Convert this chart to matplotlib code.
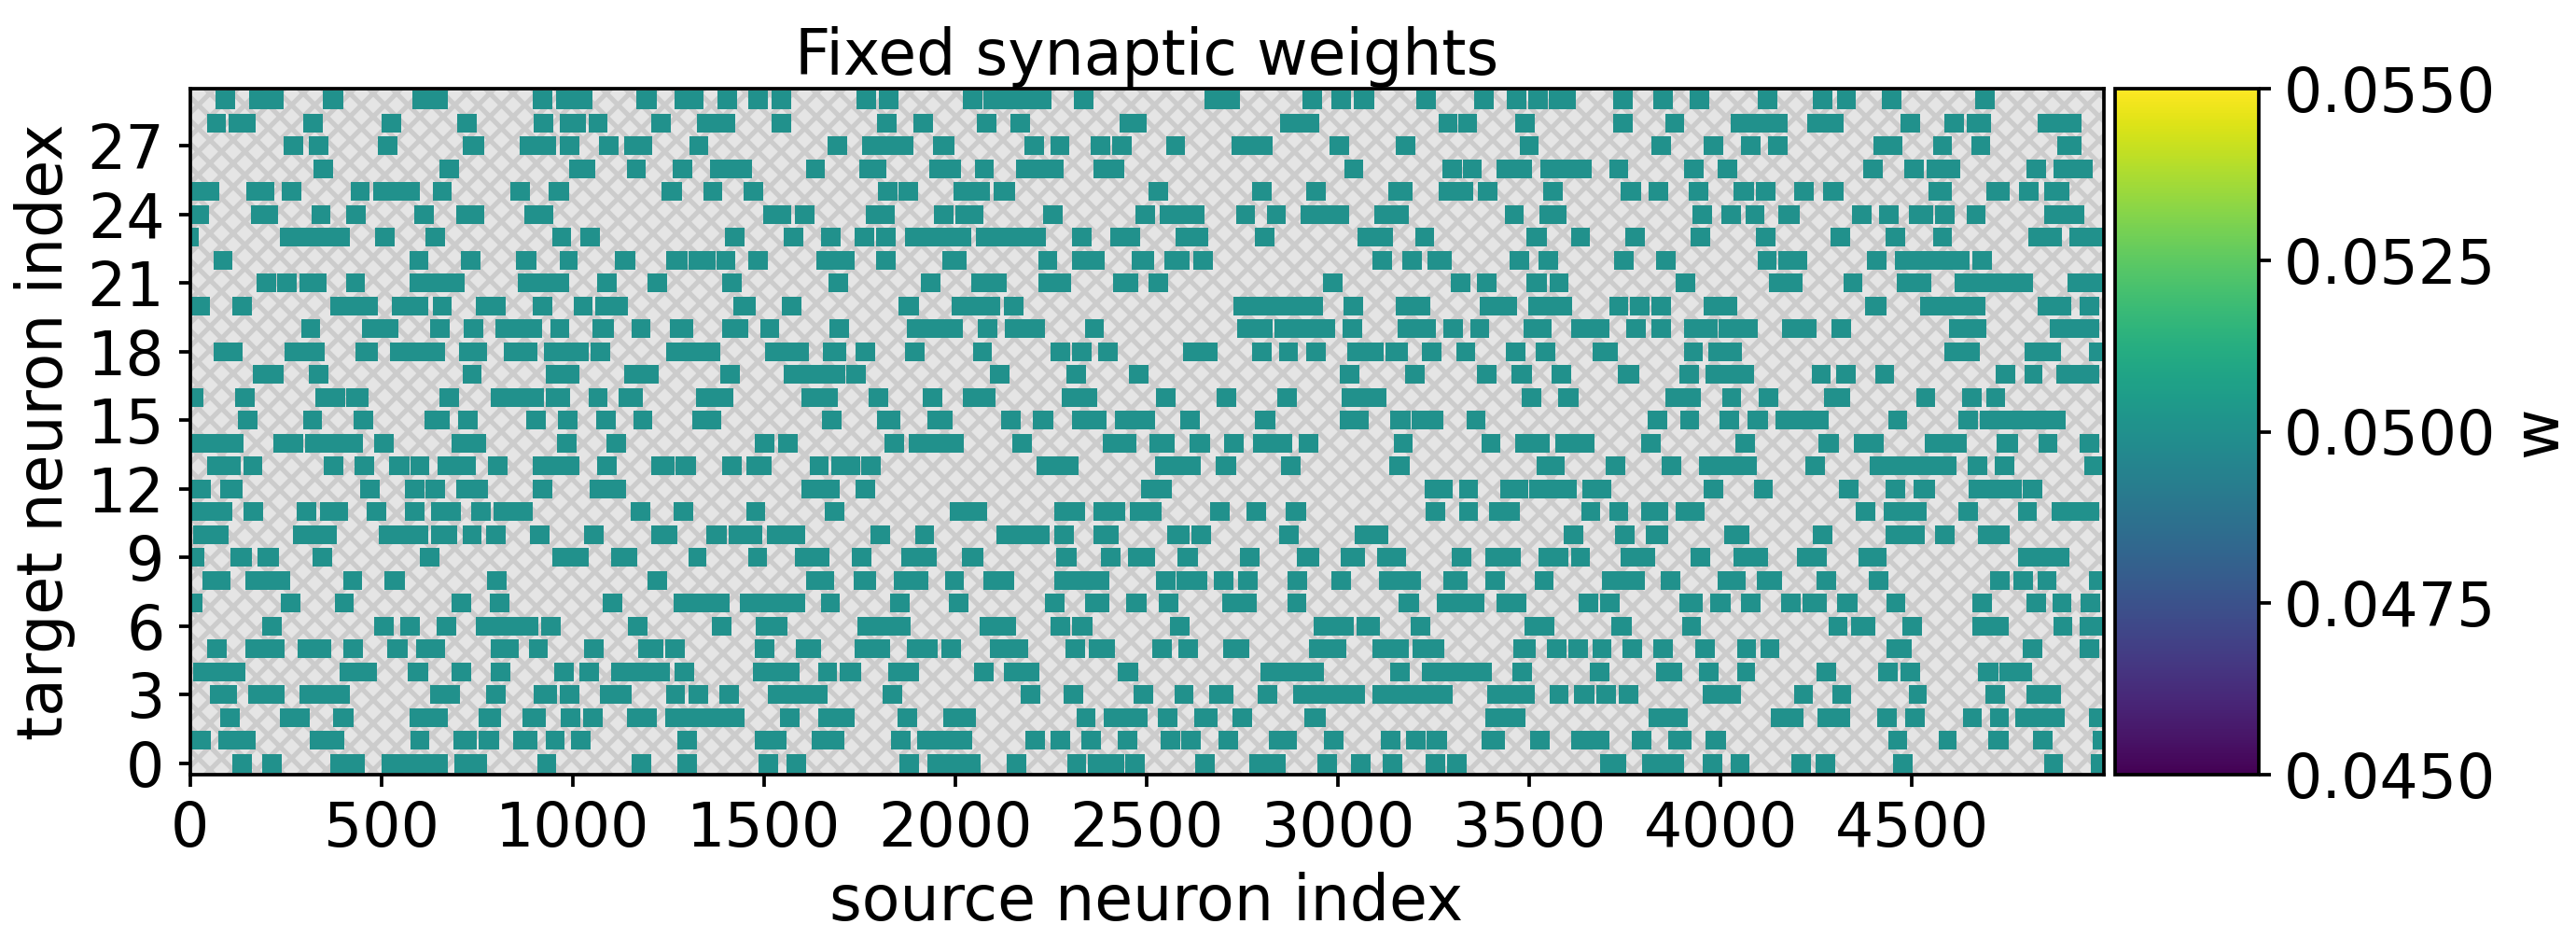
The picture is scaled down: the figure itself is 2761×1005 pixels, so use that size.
import matplotlib
matplotlib.use("Agg")
import matplotlib.pyplot as plt
from matplotlib.patches import Rectangle
from matplotlib.cm import ScalarMappable
from matplotlib.colors import Normalize
from matplotlib.ticker import FormatStrFormatter

# Each row: flat list of start, end source-neuron indices of connected runs
row_29 = [67,119,156,245,348,402,582,675,897,948,956,1053,1167,1219,1267,1343,1379,1430,1460,1511,1519,1570,
          1742,1793,1801,1852,2020,2072,2074,2251,2310,2361,2652,2745,2908,2959,2983,3035,3040,3095,3205,3256,
          3356,3407,3442,3493,3498,3549,3551,3622,3720,3771,3824,3875,3920,3971,4098,4149,4241,4292,4305,4353,4420,4471,4666,4717]
row_28 = [46,95,102,173,297,348,502,553,699,750,899,950,966,1036,1041,1092,1206,1257,1324,1424,1521,1570,
          1795,1847,1891,1942,2057,2108,2145,2196,2430,2501,2849,2951,3262,3313,3315,3364,
          3464,3515,3720,3771,3856,3905,4025,4176,4227,4322,4469,4520,4585,4636,4642,4707,4827,4943]
row_27 = [244,295,311,363,492,543,714,770,862,956,966,1017,1068,1119,1135,1209,1306,1355,
          1667,1718,1757,1891,1942,1998,2181,2232,2249,2298,2354,2405,2410,2462,2550,2601,2723,2830,2979,3030,3152,3201,
          3474,3525,3818,3869,3956,4007,4054,4105,4123,4174,4398,4475,4554,4605,4654,4705,4880,4943]
row_26 = [323,374,653,704,992,1060,1141,1192,1261,1312,1360,1470,1609,1659,
          1750,1820,1933,2015,2052,2100,2159,2283,2361,2442,3018,3066,3272,3323,3327,3376,
          3415,3507,3529,3663,3708,3759,3905,3956,3993,4044,4373,4424,4479,4530,4539,4627,4798,4849,4870,4973]
row_25 = [0,77,148,221,241,292,421,470,478,600,634,685,838,889,938,990,1233,1285,1341,1392,1448,1497,
          1799,1850,1852,1903,1996,2090,2100,2157,2505,2556,2776,2827,2916,2967,3132,3195,3262,3354,
          3366,3417,3537,3588,3739,3791,3812,3863,3917,3968,4034,4086,4093,4144,4193,4244,4268,4320,4544,4603,4695,4754,4780,4831,4844,4910]
row_24 = [0,51,160,231,317,368,409,460,587,638,695,770,875,950,1497,1570,1582,1633,
          1767,1842,1945,1996,2001,2074,2230,2281,2471,2523,2534,2652,2733,2784,2815,2864,2903,3030,3095,3186,
          3435,3486,3527,3598,3927,3978,4001,4052,4064,4113,4151,4207,4344,4393,4414,4465,4491,4554,4559,4610,4642,4691,4844,4949]
row_23 = [0,24,236,419,484,536,616,667,946,997,1021,1072,1399,1450,1552,1604,
          1650,1701,1738,1789,1793,1844,1869,2042,2054,2237,2306,2357,2405,2483,2576,2662,2784,2835,3052,3144,3201,3252,
          3493,3545,3608,3659,3751,3803,3922,3973,4093,4144,4288,4337,4430,4481,4554,4605,4803,4892,4912,5000]
row_22 = [63,112,573,622,709,760,853,905,966,1014,1111,1163,1245,1300,1302,1373,1375,1426,1460,1511,1636,1738,
          1793,1844,1966,2029,2216,2267,2306,2391,2462,2520,2547,2611,2621,2672,3091,3142,3169,3220,3235,3298,
          3449,3500,3525,3574,3722,3773,3832,3883,4098,4146,4151,4225,4383,4434,4456,4649,4658,4709]
row_21 = [175,226,229,280,287,358,409,458,575,718,858,992,1065,1116,1196,1248,1392,1443,
          1669,1720,1911,1962,2042,2135,2216,2303,2413,2479,2505,2556,2961,3012,3295,3347,
          3362,3413,3493,3545,3554,3602,3883,3934,4125,4215,4322,4371,4461,4551,4612,4815,4907,4971,4973,5000]
row_20 = [0,53,112,163,366,492,529,622,634,685,748,824,897,948,1002,1053,1060,1145,1421,1479,1548,1597,
          1852,1905,1991,2118,2127,2179,2727,2961,3015,3066,3150,3242,
          3371,3468,3498,3612,3708,3759,3763,3814,3820,3871,3956,4042,4376,4434,4520,4691,4829,4917,4937,4988]
row_19 = [292,341,449,545,628,679,716,767,799,921,943,992,1051,1109,1155,1204,1255,1314,1392,1460,1491,1540,
          1671,1722,1874,2020,2059,2110,2130,2235,2338,2389,2737,2830,2835,2993,3012,3064,3156,3256,3276,3327,3347,3395,
          3486,3559,3610,3708,3754,3805,3820,3871,3903,3993,3995,4098,4161,4251,4290,4341,4597,4693,4861,4937,4939,4990]
row_18 = [63,138,248,353,433,492,524,667,704,777,821,907,926,1043,1048,1099,1245,1387,1504,1617,
          1654,1715,1740,1791,1869,1921,2047,2096,2249,2300,2306,2357,2373,2425,2595,2686,2776,2827,2845,2896,2916,2967,3024,3120,3125,3183,3220,3271,3310,3357,
          3439,3490,3517,3568,3666,3730,3903,3954,3968,4056,4585,4678,4795,4888,4961,5000]
row_17 = [165,246,311,363,712,763,931,1019,1135,1224,1385,1436,1552,1713,1715,1767,
          2090,2142,2291,2342,2454,2505,3005,3056,3176,3227,
          3362,3413,3452,3507,3559,3608,3730,3788,3891,3942,3961,4088,4237,4288,4302,4353,4405,4453,4719,4770,4793,4841,4876,4990]
row_16 = [0,36,119,170,327,407,409,468,653,704,787,926,931,994,1041,1092,1121,1184,1322,1421,1599,1693,
          1774,1825,1915,1966,2020,2106,2277,2371,2525,2576,2684,2735,2842,2893,3010,3127,
          3480,3531,3574,3629,3856,3949,4003,4054,4100,4151,4271,4339,4512,4561,4630,4681,4693,4744]
row_15 = [126,177,297,346,427,478,612,679,702,753,880,931,962,1014,1062,1114,1158,1209,1312,1389,
          1652,1703,1795,1856,1927,1994,2120,2171,2203,2255,2306,2395,2418,2523,2588,2639,2784,2837,3005,3079,3137,3189,3193,3276,3337,3386,
          3810,3861,3895,3944,3997,4049,4071,4123,4144,4283,4437,4488,4622,4673,4678,4902]
row_14 = [0,140,219,297,302,453,482,533,683,773,960,1011,1088,1139,1477,1528,1538,1589,
          1815,1866,1879,2023,2149,2200,2385,2474,2507,2574,2611,2666,2703,2754,2778,2881,2898,2949,3146,3195,
          3374,3425,3464,3554,3568,3671,3793,3844,4039,4090,4256,4308,4347,4427,4532,4644,4722,4776,4831,4880,4937,4988]
row_13 = [46,134,140,189,351,402,431,482,521,573,577,626,648,746,779,831,897,1017,1065,1116,1206,1267,1270,1322,1392,1443,1455,1521,1619,1669,
          1677,1752,1754,1805,2212,2322,2523,2642,2681,2733,2851,2903,3134,3188,
          3519,3593,3700,3751,3846,3898,3944,4095,4222,4273,4390,4442,4444,4617,4646,4697,4715,4766,4949,5000]
row_12 = [0,56,79,138,445,496,561,612,616,667,695,779,897,948,1045,1139,1599,1698,
          1740,1791,2486,2566,3227,3300,3317,3366,
          3423,3496,3500,3625,3639,3715,3956,4007,4086,4135,4308,4359,4430,4481,4505,4559,4648,4786,4790,4841]
row_11 = [0,112,140,192,280,331,339,414,463,514,563,614,631,709,734,785,793,895,1151,1202,1263,1314,1453,1504,
          1659,1710,1986,2084,2259,2340,2361,2444,2456,2540,2666,2717,2761,2812,2864,2916,3230,3281,3317,3366,
          3395,3474,3635,3686,3710,3759,3791,3863,3883,3959,4353,4405,4427,4539,4620,4671,4776,4825,4864,4990]
row_10 = [9,102,270,384,494,622,631,699,712,763,775,826,889,941,1031,1082,1206,1273,1350,1402,1409,1495,1509,1607,
          1779,1830,1896,1945,2108,2247,2259,2310,2361,2428,2554,2611,2617,2668,2847,2898,3044,3132,
          3590,3641,3724,3776,3805,3863,4010,4076,4241,4292,4430,4534,4561,4612,4673,4756]
row_09 = [0,38,107,163,177,234,321,372,600,651,946,1041,1100,1170,1302,1350,1458,1509,1582,1671,
          1730,1781,1860,1952,2017,2074,2263,2316,2381,2432,2452,2523,2581,2633,2745,2796,2893,2951,3008,3071,3101,3178,3298,3349,
          3386,3478,3525,3602,3610,3659,3739,3828,3922,3973,4034,4123,4200,4276,4359,4434,4776,4910]
row_08 = [32,105,146,262,400,449,509,561,777,828,1196,1248,1611,1683,
          1734,1793,1840,1930,1974,2023,2074,2155,2259,2403,2525,2576,2578,2659,2676,2727,2739,2790,2869,2920,2983,3034,3108,3217,3276,3339,
          3386,3437,3513,3564,3690,3803,3844,3895,3991,4066,4095,4161,4251,4302,4388,4439,4705,4756,4764,4815,4827,4878,4961,5000]
row_07 = [0,32,238,290,378,429,685,736,783,834,1078,1129,1263,1411,1436,1607,1648,1698,
          1830,1881,1984,2035,2235,2286,2338,2403,2446,2499,2532,2584,2698,2788,2867,2918,3159,3211,3258,3383,
          3413,3493,3629,3681,3686,3737,3893,3954,3973,4025,4052,4103,4158,4210,4215,4276,4305,4357,4434,4483,4658,4709,4798,4849,4866,4915,4941,4992]
row_06 = [189,241,482,533,549,600,646,697,746,911,919,970,1145,1196,1363,1414,1479,1562,
          1744,1884,2064,2159,2249,2300,2306,2359,2560,2611,2937,3040,3049,3110,3191,3242,
          3488,3566,3715,3767,3900,3949,4283,4332,4341,4405,4475,4526,4658,4752,4870,4919,4939,5000]
row_05 = [46,97,146,248,282,370,400,451,516,570,592,667,785,860,885,936,1031,1082,1172,1236,1243,1294,1477,1528,1584,1650,
          1738,1830,1874,1954,1964,2015,2090,2191,2289,2340,2349,2418,2515,2566,2584,2635,2700,2769,2925,3022,3091,3186,3195,3278,
          3459,3517,3547,3598,3602,3654,3666,3715,3744,3795,3824,3875,3934,3985,4042,4093,4103,4154,4434,4498,4790,4841,4937,4988]
row_04 = [9,144,392,490,570,622,683,734,787,838,953,1004,1019,1070,1100,1255,1267,1318,1472,1592,1641,1691,
          1698,1754,1825,1905,2049,2100,2127,2220,2425,2479,2798,2963,3137,3188,3220,3403,
          3456,3507,3657,3708,3832,3900,3944,3995,4042,4090,4251,4302,4412,4463,4469,4520,4673,4725,4727,4813]
row_03 = [53,124,153,248,287,419,628,706,773,824,899,960,966,1017,1072,1155,1245,1294,1302,1353,1383,1434,1511,1667,
          1811,1862,2171,2222,2283,2334,2466,2517,2572,2623,2664,2727,2790,2842,2883,3071,3089,3300,
          3391,3513,3554,3602,3617,3669,3676,3727,3734,3785,3952,4052,4193,4241,4292,4341,4491,4539,4691,4742,4798,4890]
row_02 = [79,131,236,314,374,427,573,673,755,814,870,931,970,1021,1027,1078,1143,1219,1241,1450,1543,1592,1643,1738,
          1850,1901,1968,2054,2316,2367,2389,2503,2530,2581,2625,2686,2725,2776,2912,2969,
          3386,3490,3812,3915,4132,4217,4254,4339,4408,4459,4483,4534,4632,4683,4703,4752,4770,4900,4961,5000]
row_01 = [0,56,75,173,314,404,577,626,689,750,755,807,844,909,929,980,997,1048,1273,1324,1475,1558,1626,1710,
          1832,1884,1901,2045,2184,2235,2249,2300,2330,2381,2425,2476,2537,2588,2590,2642,2688,2739,2820,2893,2963,3015,3113,3164,3178,3230,3232,3284,
          3374,3435,3503,3554,3610,3708,3767,3818,3863,3924,3961,4013,4439,4488,4569,4617,4699,4752,4817,4868,4973,5000]
row_00 = [112,163,189,241,366,458,502,675,692,777,907,958,1155,1206,1273,1324,1485,1536,1560,1611,
          1854,1905,1927,2066,2135,2186,2293,2342,2347,2442,2444,2495,2627,2678,2769,2864,2947,2998,3034,3085,3117,3168,3230,3279,3286,3337,
          3686,3754,3795,3905,3954,4005,4025,4076,4184,4235,4249,4300,4451,4502,4844,4893,4966,5000]

rows = [row_00, row_01, row_02, row_03, row_04, row_05, row_06, row_07, row_08, row_09,
        row_10, row_11, row_12, row_13, row_14, row_15, row_16, row_17, row_18, row_19,
        row_20, row_21, row_22, row_23, row_24, row_25, row_26, row_27, row_28, row_29]

weight = 0.05
v_min, v_max = 0.045, 0.055
x_ticks = list(range(0, 5000, 500))
y_ticks = list(range(0, 30, 3))
cbar_ticks = [0.045, 0.0475, 0.05, 0.0525, 0.055]

W, H, DPI = 2761, 1005, 300
FS = 15.6
FS_LABEL = 16
plt.rcParams.update({"font.family": "DejaVu Sans", "font.size": FS,
                     "axes.linewidth": 0.9, "hatch.linewidth": 1.25, "hatch.color": "#cccccc"})

fig = plt.figure(figsize=(W / DPI, H / DPI), dpi=DPI)
L, R, T, B = 203.5, 2254.5, 95, 830
ax = fig.add_axes([L / W, 1 - B / H, (R - L) / W, (B - T) / H])
cax = fig.add_axes([2267 / W, 1 - B / H, (2421 - 2267) / W, (B - T) / H])

ax.set_xlim(0, 5000)
ax.set_ylim(-0.5, 29.5)
ax.add_patch(Rectangle((0, 0), 1, 1, transform=ax.transAxes, facecolor="#e5e5e5",
                       edgecolor="#cccccc", hatch="xxxx", linewidth=0, zorder=0))

norm = Normalize(v_min, v_max)
sm = ScalarMappable(norm=norm, cmap="viridis")
colour = sm.to_rgba(weight)
for r, flat in enumerate(rows):
    spans = [(flat[i], flat[i + 1] - flat[i]) for i in range(0, len(flat), 2)]
    ax.broken_barh(spans, (r - 0.41, 0.82), facecolors=colour, linewidth=0, zorder=2)

ax.set_xticks(x_ticks)
ax.set_yticks(y_ticks)
ax.tick_params(length=3, width=0.9, pad=3.5, labelsize=FS)
ax.set_xlabel("source neuron index", fontsize=FS_LABEL, labelpad=3)
ax.set_ylabel("target neuron index", fontsize=FS_LABEL, labelpad=3)
ax.set_title("Fixed synaptic weights", fontsize=FS_LABEL, pad=3.5)

cb = fig.colorbar(sm, cax=cax)
cb.set_ticks(cbar_ticks)
cb.ax.yaxis.set_major_formatter(FormatStrFormatter("%.4f"))
cb.ax.tick_params(length=3, width=0.9, pad=3.5, labelsize=FS)
cb.set_label("w", fontsize=FS_LABEL, labelpad=3)

fig.savefig("out.png", dpi=DPI)
